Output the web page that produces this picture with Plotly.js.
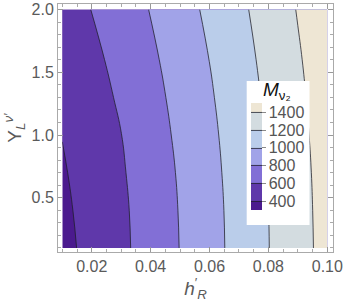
<!DOCTYPE html>
<html><head><meta charset="utf-8">
<script src="https://cdn.plot.ly/plotly-3.0.1.min.js"></script>
<style>html,body{margin:0;padding:0;background:#fff;}#chart{width:346px;height:305px;}</style>
</head><body><div id="chart"></div>
<script>
// h'_R grid (x) and Y_L^{nu'} grid (y)
const hR = [0.01,0.02,0.03,0.04,0.05,0.06,0.07,0.08,0.09,0.10];
const YL = [0.1,0.4,0.7,1.0,1.3,1.6,2.0];
// M_{nu2} values estimated from the contour positions, one row per YL value
const M_y010 = [348,455,562,680,804,932,1063,1196,1329,1463];
const M_y040 = [363,466,568,685,809,936,1067,1199,1333,1466];
const M_y070 = [382,481,581,698,819,946,1075,1207,1339,1472];
const M_y100 = [404,501,598,716,836,960,1088,1219,1350,1481];
const M_y130 = [431,526,626,739,857,979,1106,1234,1364,1494];
const M_y160 = [463,556,657,766,882,1002,1126,1253,1381,1510];
const M_y200 = [513,603,705,807,922,1039,1159,1283,1409,1535];
const levels = [400,600,800,1000,1200,1400];
const levelLabels = ['400','600','800','1000','1200','1400'];
const bandColors = ['#4b1a8e','#5f38aa','#826fd6','#a1a3e8','#bacdea','#d3dce0','#eee6d4'];
const xTickVals = [0.02,0.04,0.06,0.08,0.10];
const xTickText = ['0.02','0.04','0.06','0.08','0.10'];
const yTickVals = [0.5,1.0,1.5,2.0];
const yTickText = ['0.5','1.0','1.5','2.0'];
const legendTitle = '<i>M</i><sub>ν₂</sub>';

const W = 346, H = 305, mL = 58, mR = 13, mT = 4, mB = 53;
const pw = W - mL - mR, ph = H - mT - mB;
const px2x = p => (p - mL) / pw;
const px2y = p => 1 - (p - mT) / ph;

const z = [M_y010, M_y040, M_y070, M_y100, M_y130, M_y160, M_y200];
const n = bandColors.length;
const colorscale = bandColors.map((c, i) => [i / (n - 1), c]);
const font = 'Liberation Sans, Arial, sans-serif';

const trace = {
  type: 'contour',
  x: hR, y: YL, z: z,
  autocontour: false,
  contours: {start: levels[0], end: levels[levels.length - 1], size: levels[1] - levels[0], coloring: 'fill', showlines: true},
  line: {color: 'rgba(30,30,40,0.85)', width: 0.9, smoothing: 1.3},
  colorscale: colorscale,
  showscale: true,
  colorbar: {
    x: px2x(250.7), xanchor: 'left', xpad: 0,
    y: px2y(103.3), yanchor: 'top', ypad: 0,
    len: 106.7, lenmode: 'pixels',
    thickness: 11, thicknessmode: 'pixels',
    outlinewidth: 0,
    tickmode: 'array', tickvals: levels, ticktext: levelLabels,
    ticks: 'outside', ticklen: 4, tickcolor: '#8a8a8a',
    tickfont: {family: font, size: 16, color: '#555'},
    bgcolor: 'rgba(0,0,0,0)'
  },
  hoverinfo: 'skip'
};

const axisFont = {family: font, size: 16, color: '#5a5a5a'};
const layout = {
  width: W, height: H,
  margin: {l: mL, r: mR, t: mT, b: mB, pad: 0},
  paper_bgcolor: '#fff', plot_bgcolor: '#fff',
  showlegend: false,
  xaxis: {
    range: [0.00854, 0.10194],
    tickmode: 'array', tickvals: xTickVals, ticktext: xTickText,
    ticks: 'inside', ticklen: 5, tickcolor: '#999', tickwidth: 1,
    minor: {dtick: 0.005, tick0: 0, ticks: 'inside', ticklen: 3, tickcolor: '#aaa'},
    showline: true, linecolor: '#aaa', linewidth: 1, mirror: 'ticks',
    showgrid: false, zeroline: false,
    tickfont: axisFont,
    title: {text: '<i>h</i><sup>′</sup><sub><i>R</i></sub>', font: {family: font, size: 19, color: '#5a5a5a'}, standoff: 6}
  },
  yaxis: {
    range: [0.068, 2.044],
    tickmode: 'array', tickvals: yTickVals, ticktext: yTickText,
    ticks: 'inside', ticklen: 5, tickcolor: '#999', tickwidth: 1,
    minor: {dtick: 0.1, tick0: 0, ticks: 'inside', ticklen: 3, tickcolor: '#aaa'},
    showline: true, linecolor: '#aaa', linewidth: 1, mirror: 'ticks',
    showgrid: false, zeroline: false,
    tickfont: axisFont,
    title: {text: 'Y<sub><i>L</i></sub><sup><i>ν′</i></sup>', font: {family: font, size: 19, color: '#5a5a5a'}, standoff: 4}
  },
  shapes: [{
    type: 'rect', xref: 'paper', yref: 'paper', layer: 'above',
    x0: px2x(246.7), x1: px2x(309.5), y0: px2y(225), y1: px2y(81),
    fillcolor: '#ffffff', line: {width: 0}
  }],
  annotations: [{
    xref: 'paper', yref: 'paper', x: px2x(277), y: px2y(91),
    xanchor: 'center', yanchor: 'middle', showarrow: false,
    text: legendTitle, font: {family: font, size: 19, color: '#111'}
  }]
};

Plotly.newPlot('chart', [trace], layout, {staticPlot: true, displayModeBar: false});
</script>
</body></html>
